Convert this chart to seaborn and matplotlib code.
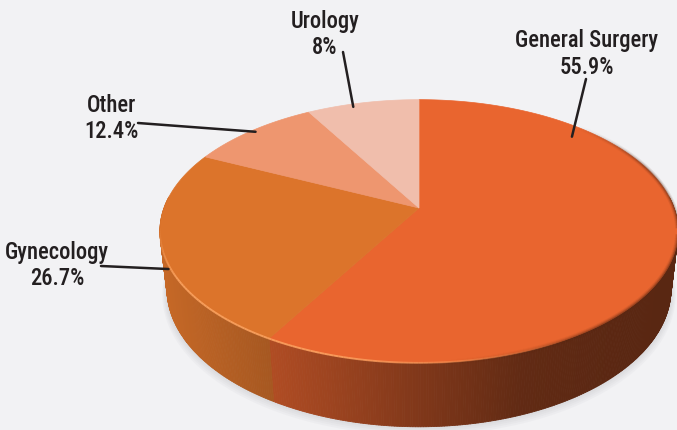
import numpy as np
import matplotlib
matplotlib.use("Agg")
import matplotlib.pyplot as plt
from matplotlib import font_manager
from matplotlib.collections import PolyCollection, LineCollection
from matplotlib.colors import to_rgb
from matplotlib.patches import Polygon
import seaborn as sns

# --- data -------------------------------------------------------------
categories = ["General Surgery", "Gynecology", "Other", "Urology"]
pct_labels = [55.9, 26.7, 12.4, 8.0]      # percentages as printed (they add up to 103)
slice_share = [58.3, 23.8, 9.6, 8.3]      # wedge sizes as drawn in the picture
top_colors = ["#E9652F", "#DC742B", "#EE966F", "#F0BEAC"]

# label placement (figure pixels, origin top-left) and leader anchors on the pie
label_xy = [(587, 47), (57, 259), (111, 112), (325, 28)]
line_start = [(586, 80), (101, 267), (138, 124), (343, 53)]
anchor = [(47, 0.91, 0.0), (250, 0.99, 0.25), (313, 0.98, 0.0), (342, 0.97, 0.0)]  # deg, radius, side depth

BG = "#F2F2F4"
INK = "#231F20"
W, H = 677, 431
TILT = np.radians(30)
FOCAL = 4.9
DEPTH = 0.265

sns.set_theme(style="white", rc={"figure.facecolor": BG, "axes.facecolor": BG})
plt.rcParams["font.family"] = ["DejaVu Sans"]


def _w(f):
    w = f.weight
    if isinstance(w, str):
        w = {"normal": 400, "regular": 400, "medium": 500, "bold": 700}.get(w, 400)
    return w


def pick_font():
    # the labels are set in a condensed grotesque; use the narrowest face on hand,
    # preferring a medium weight since the original strokes are a touch heavy
    entries = [f for f in font_manager.fontManager.ttflist if f.style == "normal"]
    for want in ["Liberation Sans Narrow", "Roboto Condensed", "Open Sans Condensed"]:
        fam = [f for f in entries if f.name == want]
        for wt in (500, 400):
            for f in fam:
                if _w(f) == wt:
                    return font_manager.FontProperties(fname=f.fname)
    for f in entries:
        if "DejaVuSansCondensed.ttf" in f.fname:
            return font_manager.FontProperties(fname=f.fname)
    return font_manager.FontProperties(family="DejaVu Sans")


def project(theta, r=1.0, y=0.0):
    """Perspective view of a point on a unit disc, theta clockwise from the back."""
    x = r * np.sin(theta)
    z = -r * np.cos(theta)
    sy = -z * np.sin(TILT) + y * np.cos(TILT)
    w = z * np.cos(TILT) + y * np.sin(TILT)
    k = FOCAL / (FOCAL - w)
    return x * k, sy * k


def side_shade(sx):
    return np.interp(sx, [-1.02, -0.6, 0.0, 0.4, 0.75, 1.05],
                     [0.90, 0.76, 0.55, 0.42, 0.39, 0.38])


fig = plt.figure(figsize=(W / 100, H / 100), dpi=100)
ax = fig.add_axes([0, 0, 1, 1])
# pie apex sits at (419, 209) px, radius 255 px
R_PX, CX, CY = 255, 419, 209
ax.set_xlim(-CX / R_PX, (W - CX) / R_PX)
ax.set_ylim(-(H - CY) / R_PX, CY / R_PX)
ax.axis("off")

shares = np.array(slice_share) / np.sum(slice_share)
edges = np.concatenate([[0], np.cumsum(shares)]) * 2 * np.pi

# faint shadow hugging the lower edge of the disc
full = np.linspace(0, 2 * np.pi, 361)
for i, grow in enumerate(np.linspace(1.004, 1.018, 5)):
    bx, by = project(full, grow, -DEPTH)
    ax.add_patch(Polygon(np.column_stack([bx, by - 0.005 * i]), closed=True,
                         facecolor="#8E8E96", edgecolor="none", alpha=0.05, zorder=1))

# side wall, drawn in thin strips so the lighting can fall off to the right
lo, hi = np.radians(85), np.radians(275)
for a0, a1, col in zip(edges[:-1], edges[1:], top_colors):
    s0, s1 = max(a0, lo), min(a1, hi)
    if s1 <= s0:
        continue
    th = np.linspace(s0, s1, max(int(np.degrees(s1 - s0) * 2), 2))
    tx, ty = project(th)
    bx, by = project(th, 1.0, -DEPTH)
    quads, cols = [], []
    base = np.array(to_rgb(col))
    for j in range(len(th) - 1):
        quads.append([(tx[j], ty[j]), (tx[j + 1], ty[j + 1]),
                      (bx[j + 1], by[j + 1]), (bx[j], by[j])])
        cols.append(np.clip(base * side_shade(0.5 * (tx[j] + tx[j + 1])), 0, 1))
    ax.add_collection(PolyCollection(quads, facecolors=cols, edgecolors=cols,
                                     linewidths=0.6, zorder=2))

# top face
for a0, a1, col in zip(edges[:-1], edges[1:], top_colors):
    th = np.linspace(a0, a1, max(int(np.degrees(a1 - a0)), 2))
    px, py = project(th)
    pts = np.column_stack([np.r_[0, px], np.r_[0, py]])
    ax.add_patch(Polygon(pts, closed=True, facecolor=col, edgecolor=col,
                         linewidth=0.5, zorder=3))

# soft dark bevel on the right-hand rim
th = np.radians(np.linspace(45, 175, 130))
for lw, a in [(4.0, 0.10), (2.5, 0.18), (1.2, 0.30)]:
    rx, ry = project(th)
    segs = [[(rx[j], ry[j]), (rx[j + 1], ry[j + 1])] for j in range(len(th) - 1)]
    mid = np.degrees(0.5 * (th[:-1] + th[1:]))
    al = a * np.interp(mid, [45, 70, 140, 175], [0.0, 1.0, 1.0, 0.0])
    ax.add_collection(LineCollection(segs, colors=[(*to_rgb("#5A2712"), v) for v in al],
                                     linewidths=lw, zorder=4))

# light catching the front-left rim
th = np.radians(np.linspace(150, 262, 120))
hx, hy = project(th)
segs = [[(hx[j], hy[j]), (hx[j + 1], hy[j + 1])] for j in range(len(th) - 1)]
mid = np.degrees(0.5 * (th[:-1] + th[1:]))
alpha = np.clip(np.interp(mid, [150, 195, 240, 262], [0.0, 0.8, 0.8, 0.0]), 0, 1)
ax.add_collection(LineCollection(segs, colors=[(*to_rgb("#FFA866"), a) for a in alpha],
                                 linewidths=1.4, zorder=4))

# labels and leader lines
fp = pick_font()
probe = fig.text(0, 0, "General Surgery", fontproperties=fp, fontsize=15.8)
renderer = fig.canvas.get_renderer()
width = probe.get_window_extent(renderer).width
probe.remove()
size = min(16.5, 15.8 * 144 / width)   # the reference word spans about 135 px

for name, pct, (lx, ly), (sx0, sy0), (adeg, ar, ad) in zip(
        categories, pct_labels, label_xy, line_start, anchor):
    axx, ayy = project(np.radians(adeg), ar, -ad * DEPTH)
    ax.annotate("", xy=(axx, ayy), xytext=(sx0, H - sy0), textcoords="figure pixels",
                arrowprops=dict(arrowstyle="-", color=INK, lw=1.8,
                                shrinkA=0, shrinkB=0), zorder=5)
    fig.text(lx / W, 1 - ly / H, name, ha="center", va="baseline",
             fontproperties=fp, fontsize=size, color=INK)
    fig.text(lx / W, 1 - (ly + 26.5) / H, f"{pct:g}%", ha="center", va="baseline",
             fontproperties=fp, fontsize=size, color=INK)

fig.savefig("out.png", dpi=100, facecolor=BG)
